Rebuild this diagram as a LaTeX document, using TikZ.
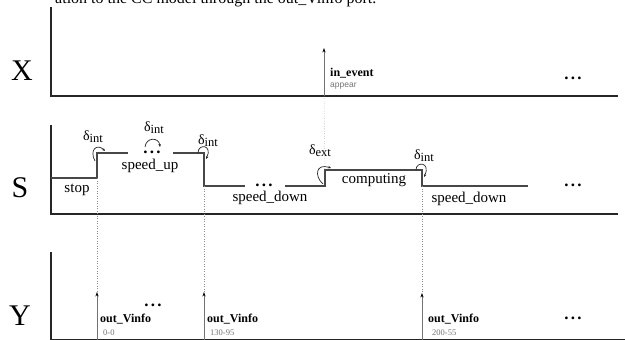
\documentclass[tikz,border=0pt]{standalone}
\usepackage{fontspec}
\setmainfont{Liberation Serif}
\newfontfamily\labsans{Liberation Sans}
\usetikzlibrary{arrows.meta}
\newcommand\deltaInt{δ\raisebox{-2pt}{\fontsize{12.5}{12.5}\selectfont int}}
\newcommand\deltaExt{δ\raisebox{-2pt}{\fontsize{12.5}{12.5}\selectfont ext}}
\newcommand\mydots{.\kern2.2pt.\kern2.2pt.}
\begin{document}
\begin{tikzpicture}[x=1pt,y=-1pt,
 axisline/.style={line width=1.8pt, draw=black!85},
 sigline/.style={line width=1.1pt, draw=black!72},
 guide/.style={dotted, line width=0.5pt, draw=black!45},
 evarrow/.style={line width=0.9pt, draw=black!55, -{Stealth[length=4.5pt,width=3.2pt,black]}},
 curl/.style={line width=0.7pt, draw=black!85, -{Stealth[length=3pt,width=2.6pt]}},
 panel/.style={font=\fontsize{30}{30}\selectfont, inner sep=0pt},
 statelab/.style={font=\fontsize{15}{15}\selectfont, inner sep=0pt},
 translab/.style={font=\fontsize{14}{14}\selectfont, inner sep=0pt},
 port/.style={font=\fontsize{12}{12}\selectfont\bfseries, inner sep=0pt, anchor=base west},
 val/.style={font=\fontsize{8.5}{8.5}\selectfont, text=black!55, inner sep=0pt, anchor=base west},
 more/.style={font=\fontsize{17}{17}\selectfont\bfseries, inner sep=0pt},
]
\useasboundingbox (0,0) rectangle (625,340);
\clip (0,0) rectangle (625,340);

% clipped caption line at top
\node[anchor=base west, inner sep=0pt, font=\fontsize{16}{16}\selectfont] (caption) at (55,3) {ation to the CC model through the out\_Vinfo port.};

% ---------------- X panel
\coordinate (xtop) at (51,7);
\coordinate (xo) at (51,96);
\coordinate (xend) at (618,96);
\draw[axisline] (xtop) -- (xo) -- (xend);
\node[panel] (xlab) at (22,71) {X};
\coordinate (ev0) at (324,96);
\coordinate (ev1) at (324,48);
\draw[evarrow] (ev0) -- (ev1);
\node[port] (inev) at (330,76) {in\_event};
\node[val, font=\labsans\fontsize{8.5}{8.5}\selectfont] (appear) at (330,87) {appear};
\node[more] (xmore) at (573,78) {\mydots};

% ---------------- S panel
\coordinate (stop) at (51,125);
\coordinate (so) at (51,214);
\coordinate (send) at (618,214);
\draw[axisline] (stop) -- (so) -- (send);
\node[panel] (slab) at (20,188) {S};

\coordinate (s0) at (51,178);
\coordinate (s1) at (97,178);
\coordinate (s2) at (97,153);
\coordinate (s3) at (128,153);
\coordinate (s4) at (173,153);
\coordinate (s5) at (204,153);
\coordinate (s6) at (204,186);
\coordinate (s7) at (245,186);
\coordinate (s8) at (285,186);
\coordinate (s9) at (325,186);
\coordinate (s10) at (325,170);
\coordinate (s11) at (422,170);
\coordinate (s12) at (422,186);
\coordinate (s13) at (528,186);
\draw[sigline] (s0) -- (s1) -- (s2) -- (s3);
\draw[sigline] (s4) -- (s5) -- (s6) -- (s7);
\draw[sigline] (s8) -- (s9) -- (s10) -- (s11) -- (s12) -- (s13);
\node[more] (updots) at (152,152) {\mydots};
\node[more] (downdots) at (264,185) {\mydots};
\node[more] (smore) at (573,185) {\mydots};

\node[statelab] (stoplab) at (77,190) {stop};
\node[statelab] (uplab) at (150,166) {speed\_up};
\node[statelab] (down1) at (270,198) {speed\_down};
\node[statelab] (comp) at (374,180) {computing};
\node[statelab] (down2) at (469,199) {speed\_down};

\node[translab] (d1) at (93,137) {\deltaInt};
\node[translab] (d2) at (154,128) {\deltaInt};
\node[translab] (d3) at (208,141) {\deltaInt};
\node[translab] (d4) at (320,151) {\deltaExt};
\node[translab] (d5) at (424,156) {\deltaInt};

\coordinate (c1a) at (95,161); \coordinate (c1b) at (105,151);
\draw[curl] (c1a) .. controls (89,150) and (97,143) .. (c1b);
\coordinate (c2a) at (145,147); \coordinate (c2b) at (160,147);
\draw[curl] (c2a) .. controls (146,137) and (159,137) .. (c2b);
\coordinate (c3a) at (198,153); \coordinate (c3b) at (206,159);
\draw[curl] (c3a) .. controls (198,143) and (213,145) .. (c3b);
\coordinate (c4a) at (323,184); \coordinate (c4b) at (331,168);
\draw[curl] (c4a) .. controls (314,176) and (316,163) .. (c4b);
\coordinate (c5a) at (416,170); \coordinate (c5b) at (424,177);
\draw[curl] (c5a) .. controls (416,161) and (431,162) .. (c5b);

% ---------------- Y panel
\coordinate (ytop) at (51,252);
\coordinate (yo) at (51,340);
\coordinate (yend) at (625,340);
\draw[axisline] (ytop) -- (yo) -- (yend);
\node[panel] (ylab) at (20,316) {Y};

\coordinate (o1a) at (97,340); \coordinate (o1b) at (97,292);
\coordinate (o2a) at (204,340); \coordinate (o2b) at (204,292);
\coordinate (o3a) at (422,340); \coordinate (o3b) at (422,293);
\draw[evarrow] (o1a) -- (o1b);
\draw[evarrow] (o2a) -- (o2b);
\draw[evarrow] (o3a) -- (o3b);
\node[port] (ov1) at (100,322) {out\_Vinfo};
\node[port] (ov2) at (207,322) {out\_Vinfo};
\node[port] (ov3) at (428,322) {out\_Vinfo};
\node[val] (v1) at (103,335) {0-0};
\node[val] (v2) at (210,335) {130-95};
\node[val] (v3) at (432,335) {200-55};
\node[more] (ydots) at (153,305) {\mydots};
\node[more] (ymore) at (573,318) {\mydots};

% ---------------- dotted guides
\draw[guide] (s1) -- (o1b);
\draw[guide] (s6) -- (o2b);
\draw[guide] (ev0) -- (s10);
\draw[guide] (s12) -- (o3b);
\end{tikzpicture}
\end{document}
